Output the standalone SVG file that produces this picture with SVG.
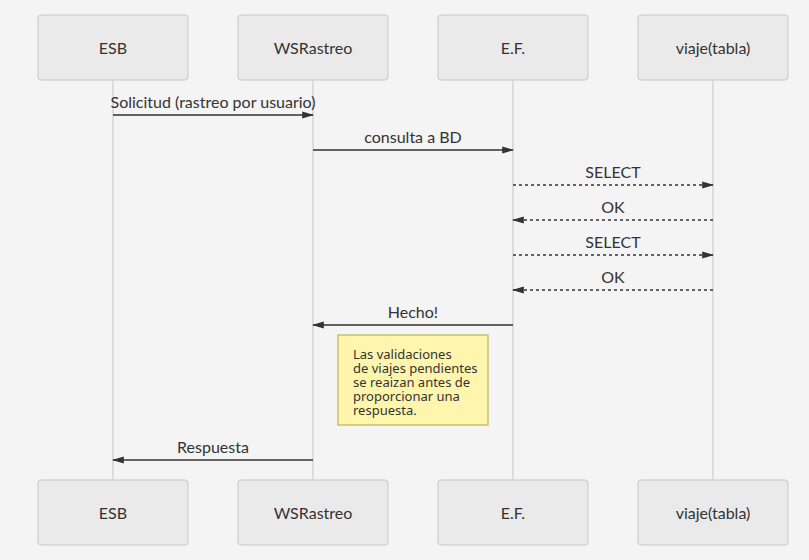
<svg xmlns="http://www.w3.org/2000/svg" width="809" height="560" viewBox="0 0 809 560">
<defs>
<marker id="ah" markerWidth="12" markerHeight="12" refX="9" refY="5" orient="auto" markerUnits="userSpaceOnUse" viewBox="0 0 10 10">
<path d="M0,2 L10,5 L0,8 z" fill="#333"/>
</marker>
</defs>
<style>
.actor{fill:#eaeaea;stroke:#c8c8c8;stroke-width:1}
.atext{font-family:Lato,"Open Sans","Liberation Sans",sans-serif;font-size:16px;fill:#333;text-anchor:middle;dominant-baseline:central}
.life{stroke:#d4d4d4;stroke-width:1.5}
.msg{stroke:#333;stroke-width:1.5;fill:none;marker-end:url(#ah)}
.dash{stroke-dasharray:3,3}
.mtext{font-family:Lato,"Open Sans","Liberation Sans",sans-serif;font-size:16px;fill:#333;text-anchor:middle}
.note{fill:#fff5ad;stroke:#aaaa33;stroke-width:1}
.ntext{font-family:"Noto Sans","Open Sans","Liberation Sans",sans-serif;font-size:13px;fill:#333}
</style>
<rect width="809" height="560" fill="#f4f4f4"/>
<g id="lifelines">
<line class="life" x1="113" y1="80" x2="113" y2="480"/>
<line class="life" x1="313" y1="80" x2="313" y2="480"/>
<line class="life" x1="513" y1="80" x2="513" y2="480"/>
<line class="life" x1="713" y1="80" x2="713" y2="480"/>
</g>
<g id="actor-ESB-top"><rect class="actor" x="38" y="15" width="150" height="65" rx="3"/><text class="atext" x="113" y="47.5">ESB</text></g>
<g id="actor-WSRastreo-top"><rect class="actor" x="238" y="15" width="150" height="65" rx="3"/><text class="atext" x="313" y="47.5">WSRastreo</text></g>
<g id="actor-EF-top"><rect class="actor" x="438" y="15" width="150" height="65" rx="3"/><text class="atext" x="513" y="47.5">E.F.</text></g>
<g id="actor-viaje-top"><rect class="actor" x="638" y="15" width="150" height="65" rx="3"/><text class="atext" x="713" y="47.5">viaje(tabla)</text></g>
<g id="actor-ESB-bottom"><rect class="actor" x="38" y="480" width="150" height="65" rx="3"/><text class="atext" x="113" y="512.5">ESB</text></g>
<g id="actor-WSRastreo-bottom"><rect class="actor" x="238" y="480" width="150" height="65" rx="3"/><text class="atext" x="313" y="512.5">WSRastreo</text></g>
<g id="actor-EF-bottom"><rect class="actor" x="438" y="480" width="150" height="65" rx="3"/><text class="atext" x="513" y="512.5">E.F.</text></g>
<g id="actor-viaje-bottom"><rect class="actor" x="638" y="480" width="150" height="65" rx="3"/><text class="atext" x="713" y="512.5">viaje(tabla)</text></g>
<g id="connectors">
<line class="msg" x1="113" y1="115" x2="313" y2="115"/>
<text class="mtext" x="213" y="108">Solicitud (rastreo por usuario)</text>
<line class="msg" x1="313" y1="150" x2="513" y2="150"/>
<text class="mtext" x="413" y="143">consulta a BD</text>
<line class="msg dash" x1="513" y1="185" x2="713" y2="185"/>
<text class="mtext" x="613" y="178">SELECT</text>
<line class="msg dash" x1="713" y1="220" x2="513" y2="220"/>
<text class="mtext" x="613" y="213">OK</text>
<line class="msg dash" x1="513" y1="255" x2="713" y2="255"/>
<text class="mtext" x="613" y="248">SELECT</text>
<line class="msg dash" x1="713" y1="290" x2="513" y2="290"/>
<text class="mtext" x="613" y="283">OK</text>
<line class="msg" x1="513" y1="325" x2="313" y2="325"/>
<text class="mtext" x="413" y="318">Hecho!</text>
<line class="msg" x1="313" y1="460" x2="113" y2="460"/>
<text class="mtext" x="213" y="453">Respuesta</text>
</g>
<g id="note">
<rect class="note" x="338" y="335" width="150" height="90"/>
<text class="ntext" x="353" y="359">Las validaciones</text>
<text class="ntext" x="353" y="373">de viajes pendientes</text>
<text class="ntext" x="353" y="387">se reaizan antes de</text>
<text class="ntext" x="353" y="401">proporcionar una</text>
<text class="ntext" x="353" y="415">respuesta.</text>
</g>
</svg>
